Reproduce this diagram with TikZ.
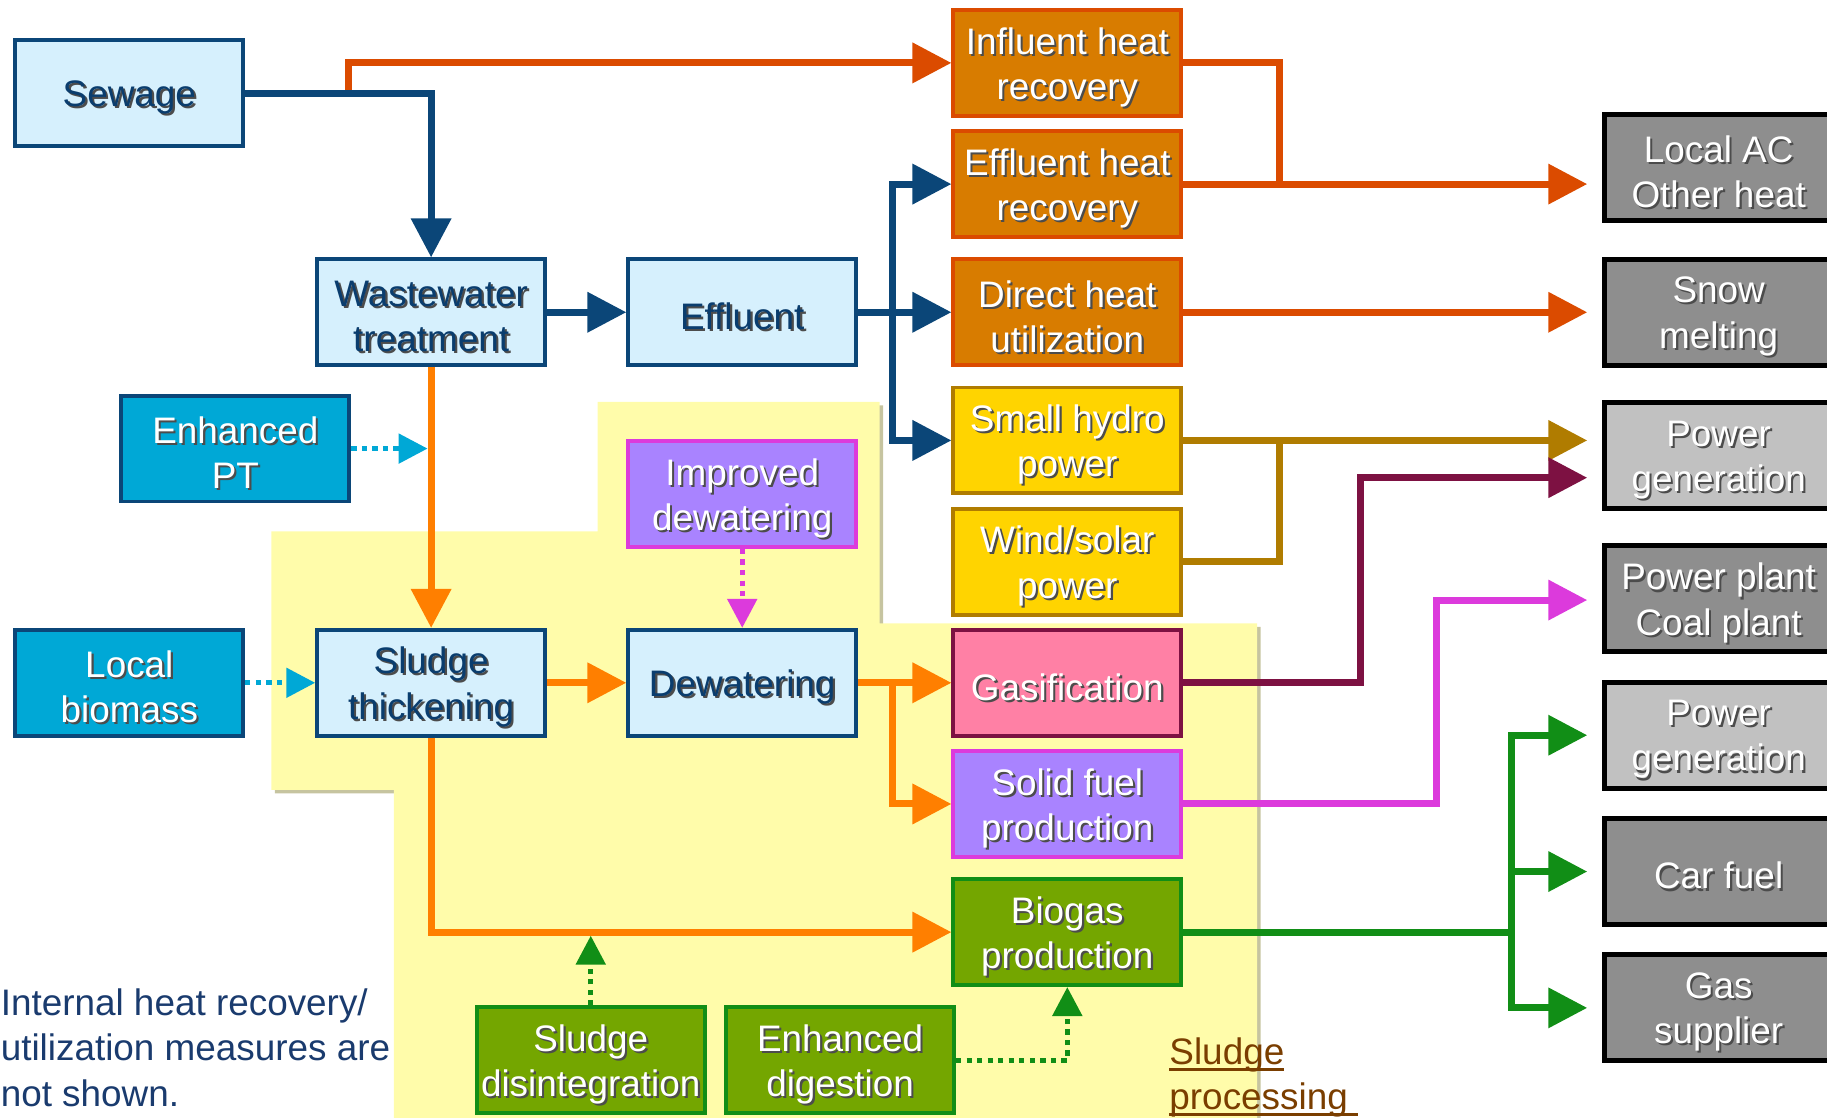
\documentclass[tikz,border=0pt]{standalone}
\usepackage{fontspec}
\setmainfont{Liberation Sans}
\usetikzlibrary{arrows.meta,positioning}

\definecolor{dblue}{HTML}{0B4678}
\definecolor{dtext}{HTML}{0A3D6E}
\definecolor{lblue}{HTML}{D6F0FD}
\definecolor{cyanf}{HTML}{00A8D6}
\definecolor{ored}{HTML}{DB4B00}
\definecolor{heatf}{HTML}{D87C00}
\definecolor{orng}{HTML}{FF7F00}
\definecolor{gold}{HTML}{B07C00}
\definecolor{yelf}{HTML}{FFD400}
\definecolor{maroon}{HTML}{7D1142}
\definecolor{pinkf}{HTML}{FF80A5}
\definecolor{magen}{HTML}{DC3ADC}
\definecolor{lavf}{HTML}{A983FF}
\definecolor{grn}{HTML}{118E16}
\definecolor{olivef}{HTML}{74A600}
\definecolor{dgray}{HTML}{8E8E8E}
\definecolor{lgray}{HTML}{C1C1C1}
\definecolor{ybg}{HTML}{FFFCAA}
\definecolor{yshade}{HTML}{C6C4A0}
\definecolor{brwn}{HTML}{7A3E00}
\definecolor{notec}{HTML}{1A3B6E}

% text with a small drop shadow, set a little low in its box
\newcommand\shtxt[1]{\raisebox{-1.5pt}[\height][\depth]{\rlap{\kern0.6pt\raisebox{-0.6pt}{\textcolor{black!70}{#1}}}#1}}
% underline just below the baseline
\newcommand\ultxt[1]{\setbox0\hbox{#1}\rlap{\rule[-1.8pt]{\wd0}{0.9pt}}\box0}

\begin{document}
\begin{tikzpicture}
  [x=0.011652cm,y=-0.011652cm,
   box/.style={shape=rectangle,draw,line width=1.1pt,minimum width=2.28cm,minimum height=1.06cm,inner sep=1pt,align=center,font=\fontsize{10.5}{12.9}\selectfont},
   blue node/.style={box,fill=lblue,draw=dblue,text=dtext},
   cyan node/.style={box,fill=cyanf,draw=dblue,text=white},
   heat node/.style={box,fill=heatf,draw=ored,text=white},
   power node/.style={box,fill=yelf,draw=gold,text=white},
   gas node/.style={box,fill=pinkf,draw=maroon,text=white},
   fuel node/.style={box,fill=lavf,draw=magen,text=white},
   bio node/.style={box,fill=olivef,draw=grn,text=white},
   user node/.style={box,fill=dgray,draw=black,line width=1.4pt,text=white},
   user light/.style={user node,fill=lgray},
   pipe/.style={line width=2pt},
   flow/.style={line width=2pt,-{Triangle[length=0.39cm,width=0.39cm]}},
   to user/.style={shorten >=0.15cm},
   dot flow/.style={line width=1.5pt,dash pattern=on 1.5pt off 1.5pt,-{Triangle[length=0.29cm,width=0.29cm]}}]
  \useasboundingbox (0,0) rectangle (1568,959);

  % sludge processing area
  \fill[yshade,shift={(3,3)}] (233,456) -- (513,456) -- (513,345) -- (755,345) -- (755,535) -- (1079,535)
    -- (1079,965) -- (338,965) -- (338,678) -- (233,678) -- cycle;
  \fill[ybg] (233,456) -- (513,456) -- (513,345) -- (755,345) -- (755,535) -- (1079,535)
    -- (1079,965) -- (338,965) -- (338,678) -- (233,678) -- cycle;

  \node[blue node] (sew) at (111,80) {\shtxt{Sewage}};
  \node[blue node] (wwt) at (370,268) {\shtxt{Wastewater}\\\shtxt{treatment}};
  \node[blue node] (eff) at (637,268) {\shtxt{Effluent}};
  \node[cyan node] (ept) at (202,385) {\shtxt{Enhanced}\\\shtxt{PT}};
  \node[fuel node] (idw) at (637,424) {\shtxt{Improved}\\\shtxt{dewatering}};
  \node[cyan node] (lbm) at (111,586) {\shtxt{Local}\\\shtxt{biomass}};
  \node[blue node] (sth) at (370,586) {\shtxt{Sludge}\\\shtxt{thickening}};
  \node[blue node] (dwt) at (637,586) {\shtxt{Dewatering}};

  \node[heat node] (ihr) at (916,54) {\shtxt{Influent heat}\\\shtxt{recovery}};
  \node[heat node] (ehr) at (916,158) {\shtxt{Effluent heat}\\\shtxt{recovery}};
  \node[heat node] (dhu) at (916,268) {\shtxt{Direct heat}\\\shtxt{utilization}};
  \node[power node] (shp) at (916,378) {\shtxt{Small hydro}\\\shtxt{power}};
  \node[power node] (wsp) at (916,482) {\shtxt{Wind/solar}\\\shtxt{power}};
  \node[gas node] (gas) at (916,586) {\shtxt{Gasification}};
  \node[fuel node] (sfp) at (916,690) {\shtxt{Solid fuel}\\\shtxt{production}};
  \node[bio node] (bgp) at (916,800) {\shtxt{Biogas}\\\shtxt{production}};
  \node[bio node] (sdi) at (507,910) {\shtxt{Sludge}\\\shtxt{disintegration}};
  \node[bio node] (edg) at (721,910) {\shtxt{Enhanced}\\\shtxt{digestion}};

  \node[user node] (ac) at (1475,144) {\shtxt{Local AC}\\\shtxt{Other heat}};
  \node[user node] (snow) at (1475,268) {\shtxt{Snow}\\\shtxt{melting}};
  \node[user light] (pg1) at (1475,391) {\shtxt{Power}\\\shtxt{generation}};
  \node[user node] (ppc) at (1475,514) {\shtxt{Power plant}\\\shtxt{Coal plant}};
  \node[user light] (pg2) at (1475,631) {\shtxt{Power}\\\shtxt{generation}};
  \node[user node] (car) at (1475,748) {\shtxt{Car fuel}};
  \node[user node] (gsu) at (1475,865) {\shtxt{Gas}\\\shtxt{supplier}};

  \node[anchor=west,align=left,text=notec,font=\fontsize{10.5}{12.9}\selectfont] (note) at (-10,899)
    {Internal heat recovery/\\utilization measures are\\not shown.};
  \node[anchor=west,align=left,text=brwn,font=\fontsize{10.5}{12.9}\selectfont] (area) at (993,925)
    {\ultxt{Sludge}\\\ultxt{processing\ }};

  % junctions
  \coordinate (ij) at (299,80);
  \coordinate (je) at (766,268);
  \coordinate (jh) at (1098,158);
  \coordinate (jw) at (1098,378);
  \coordinate (jg) at (1168,410);
  \coordinate (js) at (1233,515);
  \coordinate (jd) at (766,586);
  \coordinate (jb) at (1297,800);

  % water line
  \draw[flow,ored] (ij) |- (ihr.west);
  \draw[flow,dblue] (sew.east) -| (wwt.north);
  \draw[flow,dblue] (wwt.east) -- (eff.west);
  \draw[pipe,dblue] (eff.east) -- (je);
  \draw[flow,dblue] (je) |- (ehr.west);
  \draw[flow,dblue] (je) -- (dhu.west);
  \draw[flow,dblue] (je) |- (shp.west);

  % heat and power
  \draw[pipe,ored] (ihr.east) -| (jh);
  \draw[flow,to user,ored] (ehr.east) -- (ehr.east -| ac.west);
  \draw[flow,to user,ored] (dhu.east) -- (snow.west);
  \draw[flow,to user,gold] (shp.east) -- (shp.east -| pg1.west);
  \draw[pipe,gold] (wsp.east) -| (jw);
  \draw[flow,to user,maroon] (gas.east) -| (jg) -- (jg -| pg1.west);
  \draw[flow,to user,magen] (sfp.east) -| (js) -- (js -| ppc.west);
  \draw[pipe,grn] (bgp.east) -- (jb);
  \draw[flow,to user,grn] (jb) |- (pg2.west);
  \draw[flow,to user,grn] (jb) |- (car.west);
  \draw[flow,to user,grn] (jb) |- (gsu.west);

  % sludge line
  \draw[flow,orng] (wwt.south) -- (sth.north);
  \draw[flow,orng] (sth.east) -- (dwt.west);
  \draw[pipe,orng] (dwt.east) -- (jd);
  \draw[flow,orng] (jd) -- (gas.west);
  \draw[flow,orng] (jd) |- (sfp.west);
  \draw[flow,orng] (sth.south) |- (bgp.west);

  % measures
  \draw[dot flow,cyanf,shorten >=1pt] (ept.east) -- (ept.east -| wwt.south);
  \draw[dot flow,cyanf] (lbm.east) -- (sth.west);
  \draw[dot flow,magen] (idw.south) -- (dwt.north);
  \draw[dot flow,grn,shorten >=1pt] (sdi.north) -- (sdi.north |- bgp.west);
  \draw[dot flow,grn] (edg.east) -| (bgp.south);
\end{tikzpicture}
\end{document}
